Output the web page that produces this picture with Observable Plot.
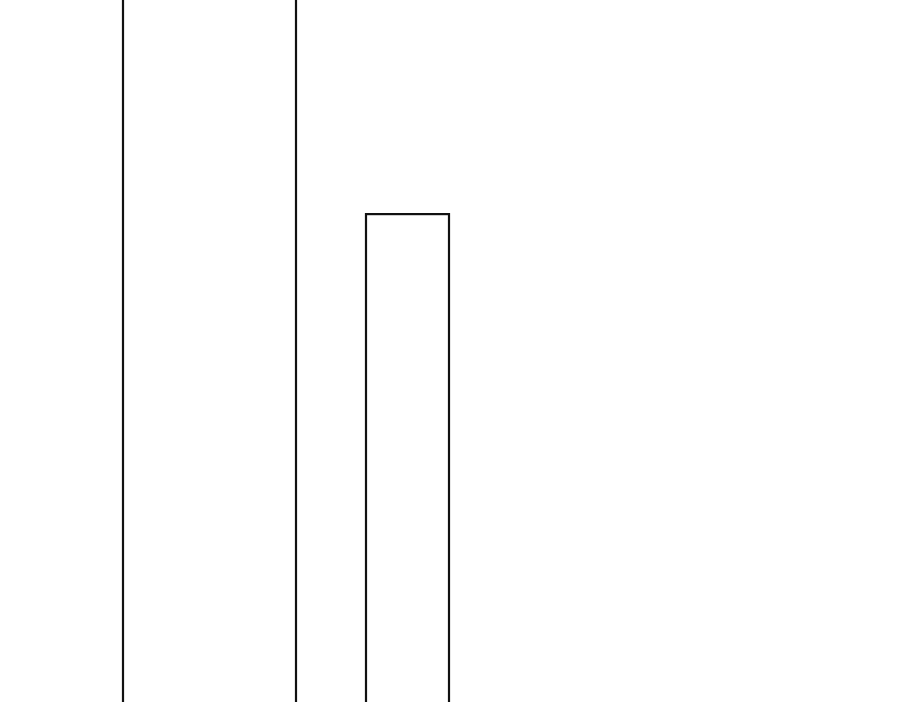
<!DOCTYPE html>
<html>
<head>
<meta charset="utf-8">
<script src="https://cdn.jsdelivr.net/npm/d3@7"></script>
<script src="https://cdn.jsdelivr.net/npm/@observablehq/plot@0.6"></script>
<style>
  html, body { margin: 0; padding: 0; background: #fff; overflow: hidden; }
  #chart svg { display: block; }
</style>
</head>
<body>
<div id="chart"></div>
<script>
// Bin edges (left / right) and bar heights
const binStart = [1.23, 3.66];
const binEnd   = [2.96, 4.49];
const heights  = [12.0, 7.56];

const bars = binStart.map((s, i) => ({ x1: s, x2: binEnd[i], y: heights[i] }));

const chart = Plot.plot({
  width: 900,
  height: 702,
  margin: 0,
  x: { domain: [0, 9], axis: null },
  y: { domain: [2, 10], axis: null },
  style: { background: "#fff" },
  marks: [
    Plot.rectY(bars, {
      x1: "x1", x2: "x2", y1: 0, y2: "y",
      fill: "none", stroke: "#111", strokeWidth: 2.2, clip: true
    })
  ]
});
document.getElementById("chart").append(chart);
</script>
</body>
</html>
